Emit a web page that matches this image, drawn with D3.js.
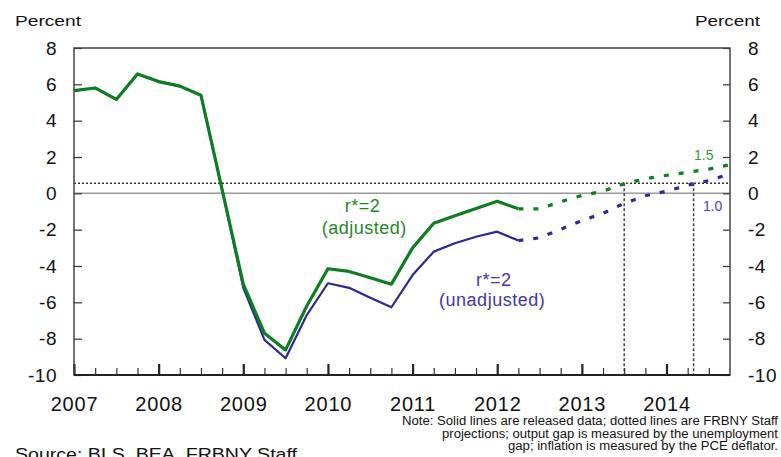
<!DOCTYPE html>
<html>
<head>
<meta charset="utf-8">
<script src="https://cdn.jsdelivr.net/npm/d3@7"></script>
<style>
	body { margin: 0; background: #fff; }
	text { font-family: "Liberation Sans", Arial, sans-serif; }
</style>
</head>
<body>
<div id="chart"></div>
<script>
// quarters as decimal years, 2007Q1 .. 2012Q2 released, 2012Q2 .. 2014Q4 projected
const actualQuarters = [2007, 2007.25, 2007.5, 2007.75, 2008, 2008.25, 2008.5, 2008.75,
	2009, 2009.25, 2009.5, 2009.75, 2010, 2010.25, 2010.5, 2010.75,
	2011, 2011.25, 2011.5, 2011.75, 2012, 2012.25];
const projQuarters = [2012.25, 2012.5, 2012.75, 2013, 2013.25, 2013.5, 2013.75,
	2014, 2014.25, 2014.5, 2014.75];

const adjusted = [5.65, 5.8, 5.17, 6.57, 6.15, 5.9, 5.4, 0.2,
	-5.0, -7.7, -8.62, -6.2, -4.15, -4.3, -4.65, -5.0,
	-3.0, -1.65, -1.23, -0.83, -0.44, -0.85];
const unadjusted = [5.65, 5.8, 5.17, 6.57, 6.15, 5.9, 5.4, 0.2,
	-5.2, -8.07, -9.08, -6.7, -4.95, -5.2, -5.75, -6.27,
	-4.5, -3.21, -2.75, -2.39, -2.11, -2.6];
const adjustedProj = [-0.85, -0.85, -0.46, -0.12, 0.12, 0.53, 0.8, 0.99, 1.16, 1.33, 1.58];
const unadjustedProj = [-2.6, -2.45, -1.98, -1.5, -1.1, -0.55, -0.13, 0.12, 0.45, 0.7, 1.08];

const yTicks = [8, 6, 4, 2, 0, -2, -4, -6, -8, -10];
const years = [2007, 2008, 2009, 2010, 2011, 2012, 2013, 2014];
const quarterTicks = [2007.25, 2007.5, 2007.75, 2008.25, 2008.5, 2008.75, 2009.25, 2009.5, 2009.75,
	2010.25, 2010.5, 2010.75, 2011.25, 2011.5, 2011.75, 2012.25, 2012.5, 2012.75,
	2013.25, 2013.5, 2013.75, 2014.25, 2014.5];

const neutralLevel = 0.55;           // dotted horizontal line
const crossDates = [2013.5, 2014.32]; // dates where projections cross it

const noteLines = [
	'Note: Solid lines are released data; dotted lines are FRBNY Staff',
	'projections; output gap is measured by the unemployment',
	'gap; inflation is measured by the PCE deflator.'
];

const GREEN = '#0b7f1f';
const BLUE = '#2c2896';

const W = 781, H = 457;
const L = 74, R = 730, T = 48, B = 375;

const svg = d3.select('#chart').append('svg')
	.attr('width', W)
	.attr('height', H);

const x = d3.scaleLinear().domain([2007, 2014.75]).range([L, R]);
const y = d3.scaleLinear().domain([-10, 8]).range([B, T]);

// zero line
svg.append('line')
	.attr('x1', L).attr('x2', R)
	.attr('y1', y(0)).attr('y2', y(0))
	.attr('stroke', '#9a9a9a')
	.attr('stroke-width', 1.5);

// neutral dotted line and the crossing markers
svg.append('line')
	.attr('x1', L).attr('x2', R)
	.attr('y1', y(neutralLevel)).attr('y2', y(neutralLevel))
	.attr('stroke', '#333')
	.attr('stroke-width', 1.5)
	.attr('stroke-dasharray', '2,2');

svg.selectAll('.cross')
	.data(crossDates)
	.enter().append('line')
		.attr('x1', d => x(d)).attr('x2', d => x(d))
		.attr('y1', y(neutralLevel)).attr('y2', B)
		.attr('stroke', '#444')
		.attr('stroke-width', 1.5)
		.attr('stroke-dasharray', '3,2');

const line = d3.line()
	.x(d => x(d[0]))
	.y(d => y(d[1]));

const drawSeries = function(dates, values, color, width, dash) {
	svg.append('path')
		.datum(d3.zip(dates, values))
		.attr('d', line)
		.attr('fill', 'none')
		.attr('stroke', color)
		.attr('stroke-width', width)
		.attr('stroke-linejoin', 'round')
		.attr('stroke-dasharray', dash || null);
};

drawSeries(actualQuarters, unadjusted, BLUE, 2.2);
drawSeries(actualQuarters, adjusted, GREEN, 3.2);
drawSeries(projQuarters, unadjustedProj, BLUE, 3.2, '5,10');
drawSeries(projQuarters, adjustedProj, GREEN, 3.2, '5,10');

// axes (plain hyphen for negatives, as in the original)
const plain = d => String(d);

const axisL = svg.append('g')
	.attr('transform', `translate(${L},0)`)
	.call(d3.axisLeft(y).tickValues(yTicks).tickSize(-8).tickSizeOuter(0).tickPadding(17).tickFormat(plain));
const axisR = svg.append('g')
	.attr('transform', `translate(${R},0)`)
	.call(d3.axisRight(y).tickValues(yTicks).tickSize(-7).tickSizeOuter(0).tickPadding(18).tickFormat(plain));
[axisL, axisR].forEach(g => {
	g.select('.domain').remove();
	g.selectAll('line').attr('stroke', '#333').attr('stroke-width', 1.2);
	g.selectAll('text')
		.attr('fill', '#111')
		.style('font-size', '19px')
		.style('letter-spacing', '0.5px');
});

const axisQ = svg.append('g')
	.attr('transform', `translate(0,${B})`)
	.call(d3.axisBottom(x).tickValues(quarterTicks).tickSize(-7).tickSizeOuter(0).tickFormat(''));
axisQ.select('.domain').remove();
axisQ.selectAll('line').attr('stroke', '#333').attr('stroke-width', 1.2);

const axisY = svg.append('g')
	.attr('transform', `translate(0,${B})`)
	.call(d3.axisBottom(x).tickValues(years).tickSize(-11).tickSizeOuter(0)
		.tickPadding(22).tickFormat(plain));
axisY.select('.domain').remove();
axisY.selectAll('line').attr('stroke', '#222').attr('stroke-width', 2.2);
axisY.selectAll('text')
	.attr('fill', '#111')
	.style('font-size', '20px')
	.style('letter-spacing', '0.8px');

// frame
svg.append('rect')
	.attr('x', L).attr('y', T)
	.attr('width', R - L).attr('height', B - T)
	.attr('fill', 'none')
	.attr('stroke', '#444')
	.attr('stroke-width', 1.5);
svg.append('line')
	.attr('x1', L).attr('x2', R)
	.attr('y1', B).attr('y2', B)
	.attr('stroke', '#222')
	.attr('stroke-width', 1.8);

// series labels
const label = function(txt, xv, yv, color, size) {
	svg.append('text')
		.attr('x', x(xv)).attr('y', y(yv))
		.attr('text-anchor', 'middle')
		.attr('fill', color)
		.style('font-size', size + 'px')
		.style('letter-spacing', size > 15 ? '0.5px' : null)
		.text(txt);
};
label('r*=2', 2010.41, -1.02, '#1d8a24', 18);
label('(adjusted)', 2010.43, -2.22, '#1d8a24', 18);
label('r*=2', 2011.96, -5.1, '#4435a8', 18);
label('(unadjusted)', 2011.94, -6.18, '#4435a8', 18);
label('1.5', 2014.44, 1.83, '#2f9a3a', 14);
label('1.0', 2014.545, -0.97, '#4a46b0', 14);

// titles and notes
const fixedText = function(txt, x0, y0, size, len, color) {
	svg.append('text')
		.attr('x', x0).attr('y', y0)
		.attr('textLength', len)
		.attr('lengthAdjust', 'spacingAndGlyphs')
		.attr('fill', color || '#111')
		.style('font-size', size + 'px')
		.text(txt);
};
fixedText('Percent', 15, 26, 15, 66);
fixedText('Percent', 695, 26, 15, 65);
fixedText(noteLines[0], 402, 425, 12, 376);
fixedText(noteLines[1], 442, 437.5, 12, 336);
fixedText(noteLines[2], 508, 450, 12, 270);
fixedText('Source: BLS, BEA, FRBNY Staff', 15, 460, 16, 282);
</script>
</body>
</html>
